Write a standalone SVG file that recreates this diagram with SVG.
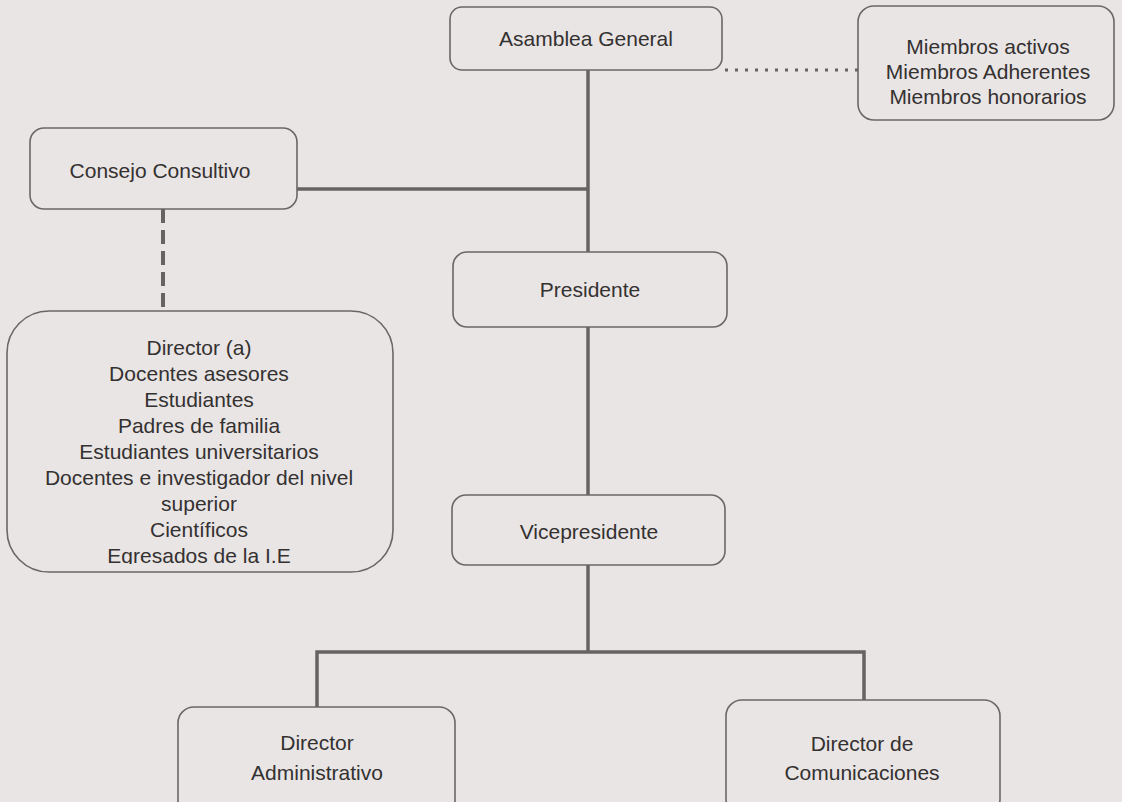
<svg xmlns="http://www.w3.org/2000/svg" width="1122" height="802" viewBox="0 0 1122 802">
  <style>
    .box { fill: none; stroke: #6b6767; stroke-width: 1.6; }
    .lbl { font-family: "Liberation Sans", Arial, sans-serif; font-size: 21px; fill: #343131; text-anchor: middle; }
    .solid { fill: none; stroke: #676363; stroke-width: 3.5; }
    .dotted { fill: none; stroke: #676363; stroke-width: 3; stroke-dasharray: 3 7; }
    .dashed { fill: none; stroke: #676363; stroke-width: 4; stroke-dasharray: 14 7; }
  </style>
  <defs>
    <clipPath id="bigclip"><rect x="0" y="300" width="420" height="264"/></clipPath>
  </defs>
  <rect x="0" y="0" width="1122" height="802" fill="#e9e5e4"/>

  <g id="connectors">
    <path class="solid" d="M588 70 V252"/>
    <path class="solid" d="M297 189 H588"/>
    <path class="solid" d="M588 327 V495"/>
    <path class="solid" d="M588 565 V652"/>
    <path class="solid" d="M317 707 V652 H864 V700"/>
    <path class="dotted" d="M725 70 H858"/>
    <path class="dashed" d="M163 209 V311"/>
  </g>

  <g id="asamblea">
    <rect class="box" x="450" y="7" width="272" height="63" rx="12"/>
    <text class="lbl" x="586" y="46">Asamblea General</text>
  </g>

  <g id="miembros">
    <rect class="box" x="858" y="6" width="256" height="114" rx="16"/>
    <text class="lbl" x="988" y="54">Miembros activos</text>
    <text class="lbl" x="988" y="79">Miembros Adherentes</text>
    <text class="lbl" x="988" y="104">Miembros honorarios</text>
  </g>

  <g id="consejo">
    <rect class="box" x="30" y="128" width="267" height="81" rx="14"/>
    <text class="lbl" x="160" y="178">Consejo Consultivo</text>
  </g>

  <g id="presidente">
    <rect class="box" x="453" y="252" width="274" height="75" rx="14"/>
    <text class="lbl" x="590" y="297">Presidente</text>
  </g>

  <g id="miembros-consejo">
    <rect class="box" x="7" y="311" width="386" height="261" rx="42"/>
    <g clip-path="url(#bigclip)">
      <text class="lbl" x="199" y="355">Director (a)</text>
      <text class="lbl" x="199" y="381">Docentes asesores</text>
      <text class="lbl" x="199" y="407">Estudiantes</text>
      <text class="lbl" x="199" y="433">Padres de familia</text>
      <text class="lbl" x="199" y="459">Estudiantes universitarios</text>
      <text class="lbl" x="199" y="485">Docentes e investigador del nivel</text>
      <text class="lbl" x="199" y="511">superior</text>
      <text class="lbl" x="199" y="537">Científicos</text>
      <text class="lbl" x="199" y="563">Egresados de la I.E</text>
    </g>
  </g>

  <g id="vicepresidente">
    <rect class="box" x="452" y="495" width="273" height="70" rx="14"/>
    <text class="lbl" x="589" y="539">Vicepresidente</text>
  </g>

  <g id="director-administrativo">
    <rect class="box" x="178" y="707" width="277" height="110" rx="16"/>
    <text class="lbl" x="317" y="750">Director</text>
    <text class="lbl" x="317" y="780">Administrativo</text>
  </g>

  <g id="director-comunicaciones">
    <rect class="box" x="726" y="700" width="274" height="115" rx="16"/>
    <text class="lbl" x="862" y="751">Director de</text>
    <text class="lbl" x="862" y="780">Comunicaciones</text>
  </g>
</svg>
